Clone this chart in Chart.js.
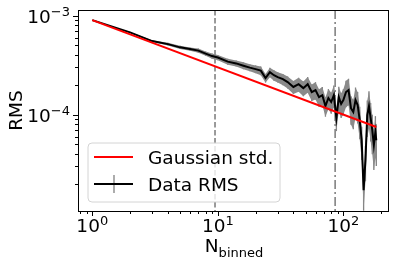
<!DOCTYPE html>
<html>
<head>
<meta charset="utf-8">
<script src="https://cdn.jsdelivr.net/npm/chart.js@4"></script>
<style>
  html, body { margin: 0; padding: 0; background: #fff; }
</style>
</head>
<body>
<canvas id="rmsChart" width="399" height="265"></canvas>
<script>
// number of binned samples
const nBinned = [1, 2, 3, 4, 5, 6, 7, 8, 9, 10, 12, 14, 16, 18, 20, 22, 24, 26, 28, 30,
  33, 36, 40, 44, 48, 52, 56, 60, 64, 68, 72, 76, 80, 84, 88, 92, 96, 100,
  105, 110, 115, 120, 125, 130, 135, 140, 145, 150, 155, 160, 165, 170, 175, 180, 183];
// measured RMS of the binned data
const dataRms = [9.0e-4, 6.78e-4, 5.53e-4, 5.15e-4, 4.78e-4, 4.59e-4, 4.43e-4, 4.13e-4, 3.90e-4, 3.77e-4,
  3.43e-4, 3.29e-4, 3.12e-4, 2.98e-4, 2.88e-4, 2.78e-4, 2.34e-4, 2.68e-4, 2.50e-4, 2.39e-4,
  2.28e-4, 2.13e-4, 1.90e-4, 2.03e-4, 1.85e-4, 2.03e-4, 1.69e-4, 1.77e-4, 1.50e-4, 1.57e-4,
  1.22e-4, 1.47e-4, 1.34e-4, 1.57e-4, 9.2e-5, 1.50e-4, 1.28e-4, 1.40e-4,
  1.69e-4, 1.77e-4, 1.16e-4, 1.06e-4, 1.40e-4, 1.25e-4, 8.8e-5, 5.5e-5, 1.72e-5, 3.47e-5,
  9.9e-5, 1.22e-4, 9.2e-5, 6.97e-5, 4.92e-5, 6.65e-5, 5.5e-5];
// relative error on each RMS point
const dataErr = [0.0, 0.01, 0.02, 0.03, 0.04, 0.04, 0.05, 0.05, 0.06, 0.06,
  0.07, 0.07, 0.08, 0.08, 0.09, 0.10, 0.10, 0.11, 0.12, 0.12,
  0.13, 0.14, 0.15, 0.16, 0.17, 0.18, 0.19, 0.20, 0.20, 0.21,
  0.22, 0.23, 0.24, 0.25, 0.26, 0.27, 0.28, 0.29,
  0.30, 0.30, 0.32, 0.33, 0.34, 0.35, 0.36, 0.37, 0.38, 0.39,
  0.40, 0.41, 0.42, 0.43, 0.44, 0.45, 0.45];
// gaussian expectation (straight line in log-log)
const gaussN = [1, 183];
const gaussStd = [9.0e-4, 7.48e-5];
// reference lines
const markerN = [9.5, 86];

const xRange = [0.784, 231];
const yRange = [1.06e-5, 1.14e-3];
const xMajor = [1, 10, 100];
const xMajorExp = ["0", "1", "2"];
const xMinor = [0.8, 0.9, 2, 3, 4, 5, 6, 7, 8, 9, 20, 30, 40, 50, 60, 70, 80, 90, 200];
const yMajor = [1e-4, 1e-3];
const yMajorExp = ["\u22124", "\u22123"];
const yMinor = [2e-5, 3e-5, 4e-5, 5e-5, 6e-5, 7e-5, 8e-5, 9e-5,
  2e-4, 3e-4, 4e-4, 5e-4, 6e-4, 7e-4, 8e-4, 9e-4];

const FONT = '"DejaVu Sans", sans-serif';
const BIG = 18.5;
const SMALL = 13;

function drawPow(ctx, x, y, exp, align) {
  ctx.font = BIG + "px " + FONT;
  const wb = ctx.measureText("10").width;
  ctx.font = SMALL + "px " + FONT;
  const we = ctx.measureText(exp).width;
  const x0 = align === "center" ? x - (wb + we) / 2 : x - (wb + we);
  ctx.textAlign = "left";
  ctx.textBaseline = "alphabetic";
  ctx.font = BIG + "px " + FONT;
  ctx.fillText("10", x0, y);
  ctx.font = SMALL + "px " + FONT;
  ctx.fillText(exp, x0 + wb, y - 7);
}

const decor = {
  id: "decor",
  beforeDatasetsDraw(chart) {
    const { ctx, chartArea: a, scales: { x, y } } = chart;
    ctx.save();
    ctx.beginPath();
    ctx.rect(a.left, a.top, a.right - a.left, a.bottom - a.top);
    ctx.clip();
    // vertical marker lines
    ctx.strokeStyle = "#7a7a7a";
    ctx.lineWidth = 1.5;
    markerN.forEach((n, i) => {
      ctx.setLineDash(i === 0 ? [5.5, 2.5] : [9, 3, 2, 3]);
      const px = x.getPixelForValue(n);
      ctx.beginPath();
      ctx.moveTo(px, a.top);
      ctx.lineTo(px, a.bottom);
      ctx.stroke();
    });
    ctx.setLineDash([]);
    // error bars
    ctx.strokeStyle = "#808080";
    ctx.lineWidth = 1.3;
    nBinned.forEach((n, i) => {
      const e = dataErr[i];
      if (!e) return;
      const px = x.getPixelForValue(n);
      ctx.beginPath();
      ctx.moveTo(px, y.getPixelForValue(dataRms[i] * (1 + e)));
      ctx.lineTo(px, y.getPixelForValue(dataRms[i] * (1 - e)));
      ctx.stroke();
    });
    ctx.restore();
  },
  afterDraw(chart) {
    const { ctx, chartArea: a, scales: { x, y } } = chart;
    ctx.save();
    // frame
    ctx.strokeStyle = "#000";
    ctx.lineWidth = 1;
    ctx.strokeRect(a.left - 0.5, a.top + 0.5, a.right - a.left, a.bottom - a.top);
    // ticks
    ctx.beginPath();
    xMajor.forEach(v => { const p = Math.round(x.getPixelForValue(v)) + 0.5; ctx.moveTo(p, a.bottom); ctx.lineTo(p, a.bottom + 5); });
    xMinor.forEach(v => { const p = Math.round(x.getPixelForValue(v)) + 0.5; ctx.moveTo(p, a.bottom); ctx.lineTo(p, a.bottom + 3); });
    yMajor.forEach(v => { const p = Math.round(y.getPixelForValue(v)) + 0.5; ctx.moveTo(a.left - 1, p); ctx.lineTo(a.left - 6, p); });
    yMinor.forEach(v => { const p = Math.round(y.getPixelForValue(v)) + 0.5; ctx.moveTo(a.left - 1, p); ctx.lineTo(a.left - 4, p); });
    ctx.stroke();
    // tick labels
    ctx.fillStyle = "#000";
    xMajor.forEach((v, i) => drawPow(ctx, x.getPixelForValue(v), 232, xMajorExp[i], "center"));
    yMajor.forEach((v, i) => drawPow(ctx, 70, y.getPixelForValue(v) + 7, yMajorExp[i], "right"));
    // axis titles
    ctx.font = BIG + "px " + FONT;
    const wN = ctx.measureText("N").width;
    ctx.font = SMALL + "px " + FONT;
    const wSub = ctx.measureText("binned").width;
    const cx = (a.left + a.right) / 2;
    const tx = cx - (wN + wSub) / 2;
    ctx.textAlign = "left";
    ctx.textBaseline = "alphabetic";
    ctx.font = BIG + "px " + FONT;
    ctx.fillText("N", tx, 252);
    ctx.font = SMALL + "px " + FONT;
    ctx.fillText("binned", tx + wN, 257);
    ctx.save();
    ctx.translate(21.5, (a.top + a.bottom) / 2);
    ctx.rotate(-Math.PI / 2);
    ctx.textAlign = "center";
    ctx.font = BIG + "px " + FONT;
    ctx.fillText("RMS", 0, 0);
    ctx.restore();
    // legend
    const ds = chart.data.datasets;
    ctx.beginPath();
    ctx.roundRect(88, 143, 192, 59, 4);
    ctx.fillStyle = "rgba(255,255,255,0.8)";
    ctx.fill();
    ctx.strokeStyle = "#d4d4d4";
    ctx.lineWidth = 1;
    ctx.stroke();
    ctx.lineWidth = 2;
    ctx.strokeStyle = "#ff0000";
    ctx.beginPath(); ctx.moveTo(94, 157); ctx.lineTo(133, 157); ctx.stroke();
    ctx.strokeStyle = "#808080";
    ctx.lineWidth = 1.3;
    ctx.beginPath(); ctx.moveTo(114, 175); ctx.lineTo(114, 193); ctx.stroke();
    ctx.strokeStyle = "#000";
    ctx.lineWidth = 2;
    ctx.beginPath(); ctx.moveTo(94, 184); ctx.lineTo(133, 184); ctx.stroke();
    ctx.fillStyle = "#000";
    ctx.font = BIG + "px " + FONT;
    ctx.textAlign = "left";
    ctx.fillText(ds[3].label, 148, 163.5);
    ctx.fillText(ds[2].label, 148, 191);
    ctx.restore();
  }
};

const rmsPts = nBinned.map((n, i) => ({ x: n, y: dataRms[i] }));
const upperPts = nBinned.map((n, i) => ({ x: n, y: dataRms[i] * (1 + dataErr[i]) }));
const lowerPts = nBinned.map((n, i) => ({ x: n, y: dataRms[i] * (1 - dataErr[i]) }));
const gaussPts = gaussN.map((n, i) => ({ x: n, y: gaussStd[i] }));

new Chart(document.getElementById("rmsChart"), {
  type: "line",
  data: {
    datasets: [
      { label: "upper", data: upperPts, borderColor: "rgba(0,0,0,0)", borderWidth: 0, pointRadius: 0, fill: false, order: 4 },
      { label: "lower", data: lowerPts, borderColor: "rgba(0,0,0,0)", borderWidth: 0, pointRadius: 0, fill: "-1", backgroundColor: "#8a8a8a", order: 3 },
      { label: "Data RMS", data: rmsPts, borderColor: "#000", borderWidth: 2, pointRadius: 0, fill: false, order: 2 },
      { label: "Gaussian std.", data: gaussPts, borderColor: "#ff0000", borderWidth: 2, pointRadius: 0, fill: false, order: 1 }
    ]
  },
  options: {
    responsive: false,
    animation: false,
    devicePixelRatio: 1,
    layout: { padding: { left: 79, right: 10, top: 10, bottom: 54 } },
    elements: { line: { tension: 0 } },
    scales: {
      x: { type: "logarithmic", min: xRange[0], max: xRange[1], display: false },
      y: { type: "logarithmic", min: yRange[0], max: yRange[1], display: false }
    },
    plugins: { legend: { display: false }, tooltip: { enabled: false } }
  },
  plugins: [decor]
});
</script>
</body>
</html>
